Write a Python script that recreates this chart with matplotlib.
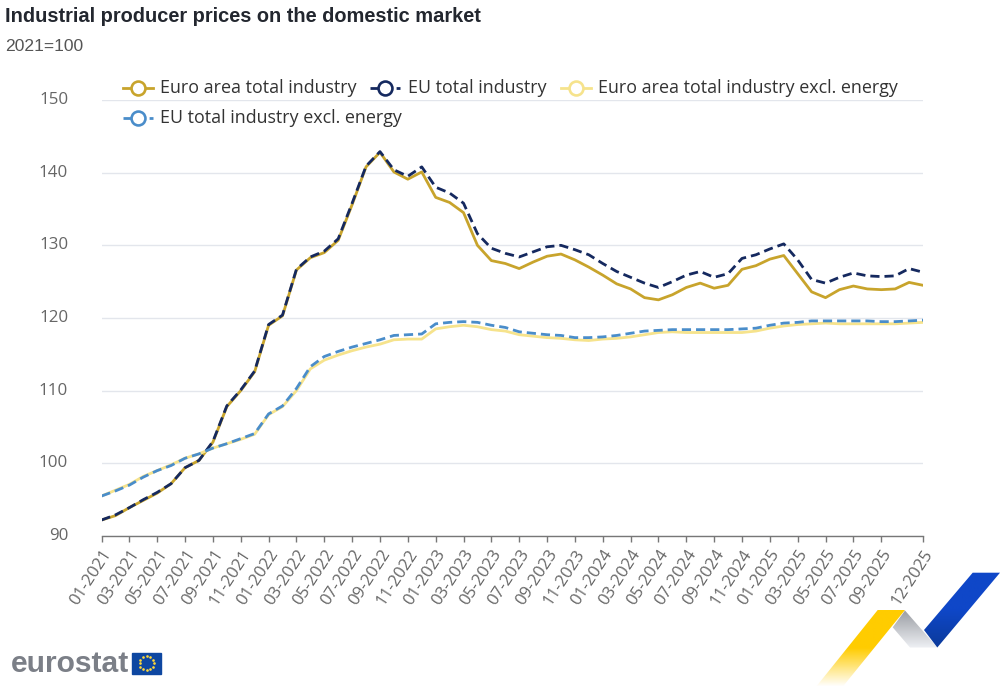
import numpy as np
import matplotlib
matplotlib.use('Agg')
import matplotlib.pyplot as plt
from matplotlib.lines import Line2D
from matplotlib.patches import Polygon, Rectangle
from matplotlib.colors import LinearSegmentedColormap

# values, 01-2021 to 12-2025
periods = [f'{m:02d}-{y}' for y in range(2021, 2026) for m in range(1, 13)]

euro_total = [92.2, 92.8, 93.9, 94.9, 95.9, 97.2, 99.4, 100.4, 102.9, 107.8,
              110.0, 112.6, 119.0, 120.3, 126.6, 128.3, 129.0, 130.7, 135.6, 140.8,
              142.8, 140.1, 139.1, 140.1, 136.6, 135.9, 134.5, 130.0, 127.9, 127.5,
              126.8, 127.7, 128.5, 128.8, 128.0, 127.0, 125.9, 124.7, 124.0, 122.8,
              122.5, 123.2, 124.2, 124.8, 124.1, 124.5, 126.7, 127.2, 128.1, 128.6,
              126.1, 123.6, 122.8, 123.9, 124.4, 124.0, 123.9, 124.0, 124.9, 124.5]
eu_total = [92.2, 92.9, 93.9, 95.0, 96.0, 97.2, 99.4, 100.4, 103.0, 107.9,
            110.1, 112.7, 119.1, 120.4, 126.7, 128.4, 129.2, 130.9, 135.8, 140.9,
            142.9, 140.4, 139.5, 140.8, 138.0, 137.2, 135.8, 131.6, 129.6, 128.9,
            128.4, 129.1, 129.8, 130.0, 129.4, 128.7, 127.5, 126.4, 125.6, 124.8,
            124.2, 125.0, 125.9, 126.4, 125.6, 126.1, 128.2, 128.7, 129.5, 130.2,
            128.0, 125.3, 124.8, 125.6, 126.2, 125.8, 125.7, 125.8, 126.8, 126.3]
euro_excl = [95.5, 96.3, 97.1, 98.2, 99.0, 99.8, 100.7, 101.3, 102.1, 102.7,
             103.3, 104.0, 106.7, 107.8, 110.0, 113.0, 114.2, 114.9, 115.5, 116.0,
             116.4, 117.0, 117.1, 117.1, 118.5, 118.8, 119.0, 118.8, 118.4, 118.2,
             117.7, 117.5, 117.3, 117.2, 117.0, 116.9, 117.1, 117.2, 117.4, 117.7,
             118.0, 118.1, 118.0, 118.0, 118.0, 118.0, 118.0, 118.2, 118.6, 118.9,
             119.1, 119.2, 119.3, 119.2, 119.2, 119.2, 119.2, 119.2, 119.3, 119.4]
eu_excl = [95.5, 96.2, 97.0, 98.1, 99.0, 99.7, 100.7, 101.3, 102.1, 102.7,
           103.4, 104.1, 106.8, 107.9, 110.3, 113.3, 114.7, 115.4, 116.0, 116.5,
           117.0, 117.6, 117.7, 117.8, 119.2, 119.4, 119.5, 119.4, 119.0, 118.7,
           118.1, 117.9, 117.7, 117.6, 117.3, 117.3, 117.4, 117.6, 117.9, 118.2,
           118.3, 118.4, 118.4, 118.4, 118.4, 118.4, 118.5, 118.6, 119.0, 119.3,
           119.4, 119.6, 119.6, 119.6, 119.6, 119.6, 119.5, 119.5, 119.6, 119.7]

y_ticks = [90, 100, 110, 120, 130, 140, 150]
x_ticks = list(range(0, 57, 2)) + [59]

GOLD = '#c8a42c'
NAVY = '#15295f'
PALE = '#f6e38c'
BLUE = '#4a8dca'
LW = 2.0
DASH = (3.3, 1.8)
KEY_DASH = (5.8, 3.6, 1.4, 3.6)

plt.rcParams['font.family'] = ['Open Sans', 'DejaVu Sans']

fig = plt.figure(figsize=(10, 6.9), dpi=100)
ax = fig.add_axes([0.1015, 154 / 690, 0.8215, 436 / 690])

x = np.arange(len(periods))
ax.plot(x, euro_total, color=GOLD, lw=LW, zorder=3)
ax.plot(x, eu_total, color=NAVY, lw=LW, dashes=DASH, zorder=4)
ax.plot(x, euro_excl, color=PALE, lw=LW, zorder=3)
ax.plot(x, eu_excl, color=BLUE, lw=LW, dashes=DASH, zorder=4)

ax.set_xlim(0, 59)
ax.set_ylim(90, 150)
ax.set_yticks(y_ticks)
ax.set_xticks(x_ticks)
ax.set_xticklabels([periods[i] for i in x_ticks], rotation=57, ha='right',
                   rotation_mode='anchor', fontsize=12.1, color='#666666')
ax.tick_params(axis='x', length=4.5, width=1, color='#777777', pad=3)
ax.tick_params(axis='y', length=0, pad=24, labelsize=12.2, labelcolor='#666666')
for lab in ax.get_yticklabels():
    lab.set_y(lab.get_position()[1])
    lab.set_verticalalignment('center')
ax.grid(axis='y', color='#e3e6ec', lw=1)
ax.set_axisbelow(True)
for side in ['top', 'left', 'right']:
    ax.spines[side].set_visible(False)
ax.spines['bottom'].set_color('#777777')
ax.spines['bottom'].set_linewidth(1)
ax.spines['bottom'].set_zorder(5)

# overlay in pixel coords for title, legend and logos
ov = fig.add_axes([0, 0, 1, 1], zorder=10)
ov.patch.set_alpha(0)
ov.axis('off')

ov.text(5, 16, 'Industrial producer prices on the domestic market', fontsize=14.4,
        fontweight='bold', family='Liberation Sans', color='#23272f', va='center')
ov.text(5, 46.5, '2021=100', fontsize=12.6, family='Liberation Sans', color='#555555', va='center')


def legend_key(x0, y, color, dashed, label, text_x):
    ov.add_line(Line2D([x0, x0 + 30], [y, y], color=color, lw=LW,
                       dashes=KEY_DASH if dashed else (None, None), zorder=2))
    ov.plot([x0 + 15], [y], 'o', ms=10, mfc='white', mec=color, mew=1.9, zorder=3)
    ov.text(text_x, y, label, fontsize=12.85, color='#333333', va='center')


legend_key(123, 88, GOLD, False, 'Euro area total industry', 160)
legend_key(370, 88, NAVY, True, 'EU total industry', 408)
legend_key(561, 88, PALE, False, 'Euro area total industry excl. energy', 598)
legend_key(123, 118, BLUE, True, 'EU total industry excl. energy', 160)

# eurostat logo
ov.text(11, 664, 'eurostat', fontsize=21.6, fontweight='bold', family='Liberation Sans',
        color='#7b7f87', va='center')
ov.add_patch(Rectangle((132, 653), 29, 20.5, color='#0e47a1', zorder=2))
angles = np.linspace(0, 2 * np.pi, 12, endpoint=False)
ov.plot(146.5 + 7 * np.cos(angles), 663.2 + 7 * np.sin(angles), '.', ms=1.8, color='#ffd83a', zorder=3)


def ribbon(points, colors, extent):
    cmap = LinearSegmentedColormap.from_list('r', colors)
    im = ov.imshow(np.linspace(0, 1, 64).reshape(-1, 1), cmap=cmap, extent=extent,
                   aspect='auto', zorder=1, interpolation='bilinear')
    clip = Polygon(points, transform=ov.transData, fc='none', ec='none')
    ov.add_patch(clip)
    im.set_clip_path(clip)


ribbon([(877.7, 610), (905, 610), (843.3, 686), (816.7, 686)],
       ['#ffcc00', '#ffcc00', '#ffffff'], (816, 906, 687, 609))
ribbon([(905, 610.5), (937.3, 647.5), (910, 647.5), (892.7, 627.3)],
       ['#9a9da3', '#eef0f4'], (892, 938, 648, 610))
ribbon([(972.7, 572.7), (1000, 572.7), (937.3, 647.5), (924, 630)],
       ['#0f47c8', '#0f47c8', '#0b3a9a'], (924, 1000, 648, 572))

ov.set_xlim(0, 1000)
ov.set_ylim(690, 0)

fig.savefig('out.png', dpi=100, facecolor='white')
